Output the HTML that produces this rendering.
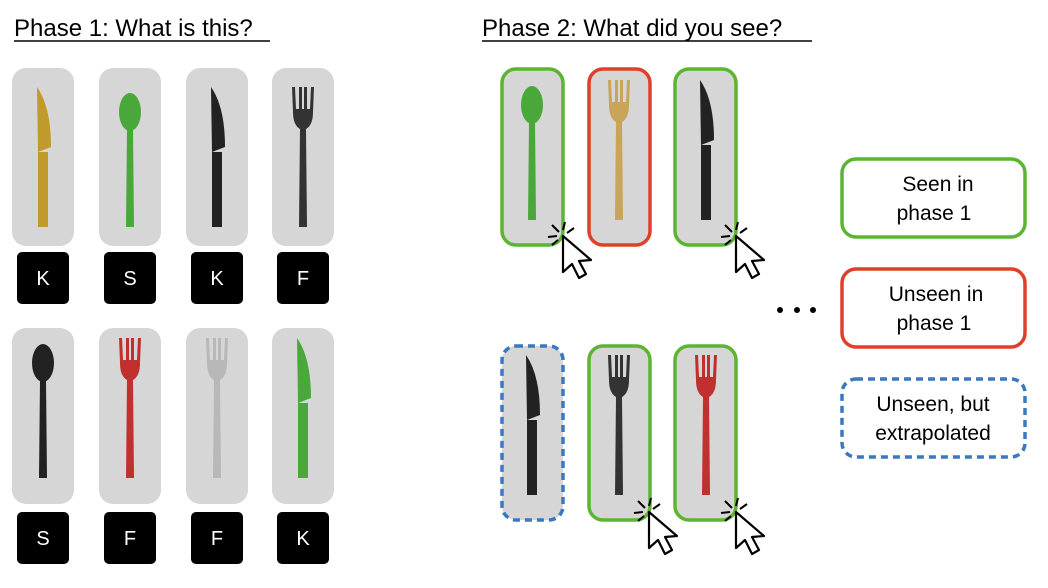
<!DOCTYPE html>
<html><head><meta charset="utf-8"><style>
body{margin:0;background:#fff;width:1048px;height:588px;overflow:hidden}
svg{display:block}
text{font-family:"Liberation Sans",sans-serif}
</style></head><body>
<svg width="1048" height="588" viewBox="0 0 1048 588">
<defs>
<g id="spoon"><ellipse cx="0" cy="-55" rx="11" ry="19"/><path d="M-3,-38 L3,-38 L4,60 L-4,60 Z"/></g>
<g id="fork"><path d="M-11,-80 L-10,-55 Q-10,-42 -3,-38 L-4,60 L4,60 L3,-38 Q10,-42 10,-55 L11,-80 L8,-80 L7,-58 L4,-58 L4,-80 L1,-80 L1,-58 L-1,-58 L-1,-80 L-4,-80 L-4,-58 L-7,-58 L-8,-80 Z"/></g>
<g id="knife"><path d="M-6,-80 Q8,-60 8,-20 L-5,-15 Z"/><path d="M-5,-15 L5,-15 L5,60 L-5,60 Z"/></g>
<g id="cursor"><path d="M0,0 L0,36 L9,28 L16,42 L23,38 L16,25 L28,24 Z" fill="#fff" stroke="#000" stroke-width="2.2" stroke-linejoin="round"/>
<g stroke="#000" stroke-width="2"><line x1="-4" y1="-4" x2="-11" y2="-11"/><line x1="0" y1="-6" x2="2" y2="-14"/><line x1="4" y1="-3" x2="11" y2="-8"/><line x1="-6" y1="0" x2="-15" y2="1"/><line x1="-5" y1="4" x2="-11" y2="9"/></g></g>
</defs>

<text x="14" y="36" font-size="24">Phase 1: What is this?</text>
<line x1="14" y1="41" x2="270" y2="41" stroke="#000" stroke-width="1.5"/>
<text x="482" y="36" font-size="24">Phase 2: What did you see?</text>
<line x1="482" y1="41" x2="812" y2="41" stroke="#000" stroke-width="1.5"/>

<!-- Phase 1 cards -->
<g>
<rect x="12" y="68" width="62" height="178" rx="14" fill="#d6d6d6"/>
<rect x="99" y="68" width="62" height="178" rx="14" fill="#d6d6d6"/>
<rect x="186" y="68" width="62" height="178" rx="14" fill="#d6d6d6"/>
<rect x="272" y="68" width="62" height="178" rx="14" fill="#d6d6d6"/>
<rect x="12" y="328" width="62" height="176" rx="14" fill="#d6d6d6"/>
<rect x="99" y="328" width="62" height="176" rx="14" fill="#d6d6d6"/>
<rect x="186" y="328" width="62" height="176" rx="14" fill="#d6d6d6"/>
<rect x="272" y="328" width="62" height="176" rx="14" fill="#d6d6d6"/>
<use href="#knife" x="43" y="167" fill="#c09a2a"/>
<use href="#spoon" x="130" y="167" fill="#4aa83a"/>
<use href="#knife" x="217" y="167" fill="#222"/>
<use href="#fork" x="303" y="167" fill="#333"/>
<use href="#spoon" x="43" y="418" fill="#222"/>
<use href="#fork" x="130" y="418" fill="#c0302e"/>
<use href="#fork" x="217" y="418" fill="#b8b8b8"/>
<use href="#knife" x="303" y="418" fill="#4aa83a"/>
</g>
<g font-size="20" fill="#fff" text-anchor="middle">
<rect x="17" y="252" width="52" height="52" rx="5" fill="#000"/><text x="43" y="285">K</text>
<rect x="104" y="252" width="52" height="52" rx="5" fill="#000"/><text x="130" y="285">S</text>
<rect x="191" y="252" width="52" height="52" rx="5" fill="#000"/><text x="217" y="285">K</text>
<rect x="277" y="252" width="52" height="52" rx="5" fill="#000"/><text x="303" y="285">F</text>
<rect x="17" y="512" width="52" height="52" rx="5" fill="#000"/><text x="43" y="545">S</text>
<rect x="104" y="512" width="52" height="52" rx="5" fill="#000"/><text x="130" y="545">F</text>
<rect x="191" y="512" width="52" height="52" rx="5" fill="#000"/><text x="217" y="545">F</text>
<rect x="277" y="512" width="52" height="52" rx="5" fill="#000"/><text x="303" y="545">K</text>
</g>

<!-- Phase 2 cards -->
<g stroke-width="3.5" fill="#d6d6d6">
<rect x="502" y="69" width="61" height="176" rx="14" stroke="#5cb531"/>
<rect x="589" y="69" width="61" height="176" rx="14" stroke="#e0402a"/>
<rect x="675" y="69" width="61" height="176" rx="14" stroke="#5cb531"/>
<rect x="502" y="346" width="61" height="174" rx="14" stroke="#3a78c0" stroke-dasharray="7 5"/>
<rect x="589" y="346" width="61" height="174" rx="14" stroke="#5cb531"/>
<rect x="675" y="346" width="61" height="174" rx="14" stroke="#5cb531"/>
</g>
<use href="#spoon" x="532" y="160" fill="#4aa83a"/>
<use href="#fork" x="619" y="160" fill="#c9a55a"/>
<use href="#knife" x="706" y="160" fill="#222"/>
<use href="#knife" x="532" y="435" fill="#222"/>
<use href="#fork" x="619" y="435" fill="#333"/>
<use href="#fork" x="706" y="435" fill="#c0302e"/>
<use href="#cursor" x="563" y="236"/>
<use href="#cursor" x="736" y="236"/>
<use href="#cursor" x="649" y="512"/>
<use href="#cursor" x="736" y="512"/>

<g fill="#000"><circle cx="780" cy="310" r="3"/><circle cx="797" cy="310" r="3"/><circle cx="813" cy="310" r="3"/></g>

<g font-size="21" text-anchor="middle">
<rect x="842" y="159" width="183" height="78" rx="14" fill="#fff" stroke="#5cb531" stroke-width="3.5"/>
<text x="938" y="191">Seen in</text><text x="934" y="220">phase 1</text>
<rect x="842" y="269" width="183" height="78" rx="14" fill="#fff" stroke="#e0402a" stroke-width="3.5"/>
<text x="936" y="301">Unseen in</text><text x="934" y="330">phase 1</text>
<rect x="842" y="379" width="183" height="78" rx="14" fill="#fff" stroke="#3a78c0" stroke-width="3.5" stroke-dasharray="7 5"/>
<text x="933" y="411">Unseen, but</text><text x="933" y="440">extrapolated</text>
</g>
</svg>
</body></html>
